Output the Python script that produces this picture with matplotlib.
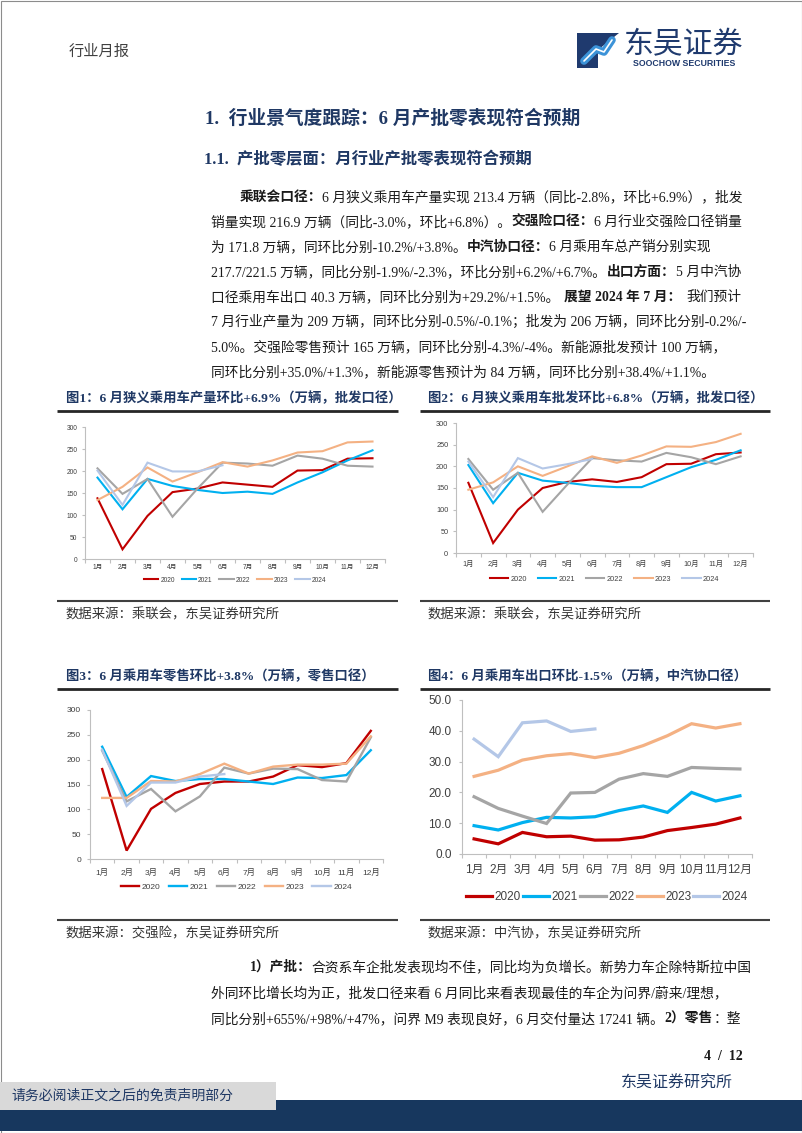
import matplotlib
matplotlib.use('Agg')
import matplotlib.pyplot as plt
import numpy as np
from matplotlib.patches import Rectangle, Polygon

W, H = 802, 1133
BODY = ['Liberation Serif', 'Noto Sans CJK SC']
SANS = ['Liberation Sans', 'Noto Sans CJK SC']
NAVY = '#1F3864'
GREY = '#BFBFBF'

months = ['1月', '2月', '3月', '4月', '5月', '6月', '7月', '8月', '9月', '10月', '11月', '12月']
years = ['2020', '2021', '2022', '2023', '2024']
colors = ['#C00000', '#00B0F0', '#A5A5A5', '#F4B183', '#B4C7E7']

# fig1: production (万辆)
prod_2020 = [138, 22, 98, 152, 160, 174, 169, 164, 201, 202, 228, 229]
prod_2021 = [185, 113, 182, 166, 157, 150, 153, 148, 174, 197, 224, 247]
prod_2022 = [206, 148, 182, 96, 160, 219, 217, 212, 235, 228, 212, 210]
prod_2023 = [134, 164, 208, 176, 197, 220, 210, 224, 242, 245, 265, 267]
prod_2024 = [201, 123, 219, 199, 199, 213]

# fig2: wholesale
whole_2020 = [162, 23, 100, 150, 164, 170, 164, 175, 205, 206, 228, 232]
whole_2021 = [203, 115, 185, 167, 162, 155, 152, 152, 175, 198, 215, 237]
whole_2022 = [217, 146, 185, 95, 158, 219, 214, 211, 231, 221, 205, 223]
whole_2023 = [146, 163, 200, 178, 200, 223, 208, 225, 246, 245, 256, 275]
whole_2024 = [211, 129, 219, 195, 205, 217]

# fig3: retail
retail_2020 = [181, 17, 101, 133, 151, 156, 156, 166, 189, 185, 193, 258]
retail_2021 = [226, 125, 167, 157, 161, 161, 156, 151, 164, 163, 169, 219]
retail_2022 = [218, 116, 141, 96, 126, 184, 172, 182, 181, 159, 156, 245]
retail_2023 = [123, 123, 157, 156, 171, 192, 172, 186, 190, 190, 192, 247]
retail_2024 = [220, 107, 154, 154, 166, 171]

# fig4: export
export_2020 = [4.9, 3.3, 7.0, 5.6, 5.8, 4.5, 4.6, 5.5, 7.6, 8.6, 9.7, 11.7]
export_2021 = [9.2, 7.8, 10.2, 11.9, 11.7, 12.1, 14.1, 15.6, 13.5, 20.0, 17.2, 18.9]
export_2022 = [18.6, 14.8, 12.3, 9.9, 19.8, 20.0, 24.3, 26.1, 25.2, 28.1, 27.8, 27.6]
export_2023 = [25.2, 27.2, 30.5, 31.9, 32.6, 31.3, 32.7, 35.2, 38.4, 42.3, 40.9, 42.3]
export_2024 = [37.3, 31.6, 42.6, 43.2, 39.8, 40.6]

para1 = [
    [('乘联会口径：', True), ('6 月狭义乘用车产量实现 213.4 万辆（同比-2.8%，环比+6.9%），批发', False)],
    [('销量实现 216.9 万辆（同比-3.0%，环比+6.8%）。', False), ('交强险口径：', True), ('6 月行业交强险口径销量', False)],
    [('为 171.8 万辆，同环比分别-10.2%/+3.8%。', False), ('中汽协口径：', True), ('6 月乘用车总产销分别实现', False)],
    [('217.7/221.5 万辆，同比分别-1.9%/-2.3%，环比分别+6.2%/+6.7%。', False), ('出口方面：', True), ('5 月中汽协', False)],
    [('口径乘用车出口 40.3 万辆，同环比分别为+29.2%/+1.5%。', False), ('展望 2024 年 7 月：', True), ('我们预计', False)],
    [('7 月行业产量为 209 万辆，同环比分别-0.5%/-0.1%；批发为 206 万辆，同环比分别-0.2%/-', False)],
    [('5.0%。交强险零售预计 165 万辆，同环比分别-4.3%/-4%。新能源批发预计 100 万辆，', False)],
    [('同环比分别+35.0%/+1.3%，新能源零售预计为 84 万辆，同环比分别+38.4%/+1.1%。', False)],
]
para2 = [
    [('1）产批：', True), ('合资系车企批发表现均不佳，同比均为负增长。新势力车企除特斯拉中国', False)],
    [('外同环比增长均为正，批发口径来看 6 月同比来看表现最佳的车企为问界/蔚来/理想，', False)],
    [('同比分别+655%/+98%/+47%，问界 M9 表现良好，6 月交付量达 17241 辆。', False), ('2）零售', True), ('：整', False)],
]

fig = plt.figure(figsize=(W / 100, H / 100), dpi=100)
bg = fig.add_axes([0, 0, 1, 1])
bg.set_xlim(0, W)
bg.set_ylim(H, 0)
bg.axis('off')
renderer = fig.canvas.get_renderer()


def px_axes(x0, y0, x1, y1):
    return fig.add_axes([x0 / W, 1 - y1 / H, (x1 - x0) / W, (y1 - y0) / H])


def rich_line(x, y, segs, fs, right=None, color='#1a1a1a'):
    # place bold / normal runs one after the other; spread any slack between runs
    texts = []
    for s, bold in segs:
        t = bg.text(x, y, s, fontsize=fs, fontweight='bold' if bold else 'normal',
                    va='center', ha='left', color=color, family=BODY)
        texts.append(t)
    widths = [t.get_window_extent(renderer=renderer).width for t in texts]
    gap = 0
    if right is not None and len(texts) > 1:
        slack = right - x - sum(widths)
        if 0 < slack < 20:
            gap = slack / (len(texts) - 1)
    for t, w in zip(texts, widths):
        t.set_x(x)
        x += w + gap


def hline(x0, x1, y, lw=1.5, color='#262626'):
    bg.plot([x0, x1], [y, y], color=color, lw=lw, solid_capstyle='butt')


def line_chart(box, series, ymax, ystep, fs, lw, leg_y, hl, cs, xpad, ypad, fmt='{:.0f}', tp=0.3):
    ax = px_axes(*box)
    for i, vals in enumerate(series):
        ax.plot(range(len(vals)), vals, color=colors[i], lw=lw, label=years[i],
                solid_joinstyle='miter')
    ax.set_xlim(-0.5, 11.5)
    ax.set_ylim(0, ymax)
    yt = np.arange(0, ymax + 0.01, ystep)
    ax.set_yticks(yt)
    ax.set_yticklabels([fmt.format(v) for v in yt], family=SANS)
    ax.set_xticks(range(12))
    ax.set_xticklabels(months, family=SANS)
    ax.set_xticks(np.arange(-0.5, 12, 1), minor=True)
    ax.tick_params(axis='x', which='major', length=0, pad=xpad, labelsize=fs, labelcolor='#404040')
    ax.tick_params(axis='x', which='minor', length=3, color=GREY, width=0.8)
    ax.tick_params(axis='y', length=2.5, color=GREY, width=0.8, pad=ypad, labelsize=fs, labelcolor='#404040')
    for sp in ['top', 'right']:
        ax.spines[sp].set_visible(False)
    for sp in ['left', 'bottom']:
        ax.spines[sp].set_color(GREY)
        ax.spines[sp].set_linewidth(0.8)
    ax.patch.set_alpha(0)
    leg = ax.legend(loc='center', bbox_to_anchor=(0.5, leg_y), ncol=5, frameon=False,
                    handlelength=hl, handletextpad=tp, columnspacing=cs,
                    borderaxespad=0, prop={'family': SANS, 'size': fs})
    for t in leg.get_texts():
        t.set_color('#404040')
    return ax


# page frame
bg.add_patch(Rectangle((0.5, 0.5), W - 1, H - 1, fill=False, edgecolor='#8c8c8c', lw=0.8))

# header
bg.text(69, 52, '行业月报', fontsize=11, color='#404040', va='center', family=BODY)
bg.add_patch(Rectangle((577, 33), 21, 35, color='#1F3A6E', lw=0))
bg.add_patch(Polygon([(598, 33), (619, 33), (598, 50)], color='#1F3A6E', lw=0))
bg.plot([584, 596, 604, 612], [61, 49, 52, 40], color='#3C93D8', lw=5.5, solid_capstyle='round')
bg.plot([584, 596, 604, 612], [61, 49, 52, 40], color='white', lw=1.2, solid_capstyle='round')
bg.text(624, 45, '东吴证券', fontsize=21.5, color='#1F3A6E', va='center', ha='left', family=SANS)
bg.text(684, 64, 'SOOCHOW SECURITIES', fontsize=6.3, fontweight='bold', color='#1F3A6E',
        va='center', ha='center', family=SANS)

# headings
bg.text(205, 118, '1.  行业景气度跟踪：6 月产批零表现符合预期', fontsize=13.5, fontweight='bold',
        color=NAVY, va='center', family=BODY)
bg.text(204, 160, '1.1.  产批零层面：月行业产批零表现符合预期', fontsize=11.8, fontweight='bold',
        color=NAVY, va='center', family=BODY)

for i, segs in enumerate(para1):
    rich_line(240 if i == 0 else 211, 197 + 25 * i, segs, 9.9, right=741 if i < 7 else None)

# chart titles and rules
bg.text(66, 398, '图1：6 月狭义乘用车产量环比+6.9%（万辆，批发口径）', fontsize=9.6,
        fontweight='bold', color=NAVY, va='center', family=BODY)
bg.text(428, 398, '图2：6 月狭义乘用车批发环比+6.8%（万辆，批发口径）', fontsize=9.6,
        fontweight='bold', color=NAVY, va='center', family=BODY)
hline(57, 398, 411, lw=2)
hline(420, 770, 411, lw=2)
hline(57, 398, 601, lw=1.5, color='#404040')
hline(420, 770, 601, lw=1.5, color='#404040')
bg.text(66, 615, '数据来源：乘联会，东吴证券研究所', fontsize=9.6, color='#333333', va='center', family=BODY)
bg.text(428, 615, '数据来源：乘联会，东吴证券研究所', fontsize=9.6, color='#333333', va='center', family=BODY)

bg.text(66, 676, '图3：6 月乘用车零售环比+3.8%（万辆，零售口径）', fontsize=9.6,
        fontweight='bold', color=NAVY, va='center', family=BODY)
bg.text(428, 676, '图4：6 月乘用车出口环比-1.5%（万辆，中汽协口径）', fontsize=9.6,
        fontweight='bold', color=NAVY, va='center', family=BODY)
hline(57, 398, 689, lw=2)
hline(420, 770, 689, lw=2)
hline(57, 398, 920, lw=1.5, color='#404040')
hline(420, 770, 920, lw=1.5, color='#404040')
bg.text(66, 934, '数据来源：交强险，东吴证券研究所', fontsize=9.6, color='#333333', va='center', family=BODY)
bg.text(428, 934, '数据来源：中汽协，东吴证券研究所', fontsize=9.6, color='#333333', va='center', family=BODY)

# charts
line_chart((85, 427, 385, 559), [prod_2020, prod_2021, prod_2022, prod_2023, prod_2024],
           300, 50, 4.8, 1.5, -0.16, 2.2, 1.0, 3.5, 3)
line_chart((456, 423, 753, 553), [whole_2020, whole_2021, whole_2022, whole_2023, whole_2024],
           300, 50, 5.3, 1.5, -0.2, 2.5, 1.5, 5.5, 3)
line_chart((90, 710, 383, 859), [retail_2020, retail_2021, retail_2022, retail_2023, retail_2024],
           300, 50, 6, 1.7, -0.19, 2.2, 1.0, 7, 4)
line_chart((462, 700, 752, 854), [export_2020, export_2021, export_2022, export_2023, export_2024],
           50, 10, 8.5, 2.3, -0.28, 2.2, 0.2, 7, 5, fmt='{:.1f}', tp=0.2)

for i, segs in enumerate(para2):
    rich_line(250 if i == 0 else 211, 967 + 26 * i, segs, 9.9, right=741)

# footer
bg.text(743, 1057, '4  /  12', fontsize=10, fontweight='bold', color='#1a1a1a', va='center', ha='right', family=BODY)
bg.text(733, 1084, '东吴证券研究所', fontsize=11.5, color=NAVY, va='center', ha='right', family=BODY)
bg.add_patch(Rectangle((0, 1100), W, 31, color='#17375E', lw=0))
bg.add_patch(Rectangle((0, 1082), 276, 28, color='#D9D9D9', lw=0))
bg.text(11, 1096, '请务必阅读正文之后的免责声明部分', fontsize=10, color='#1F3864', va='center', family=BODY)

fig.savefig('out.png', dpi=100)
